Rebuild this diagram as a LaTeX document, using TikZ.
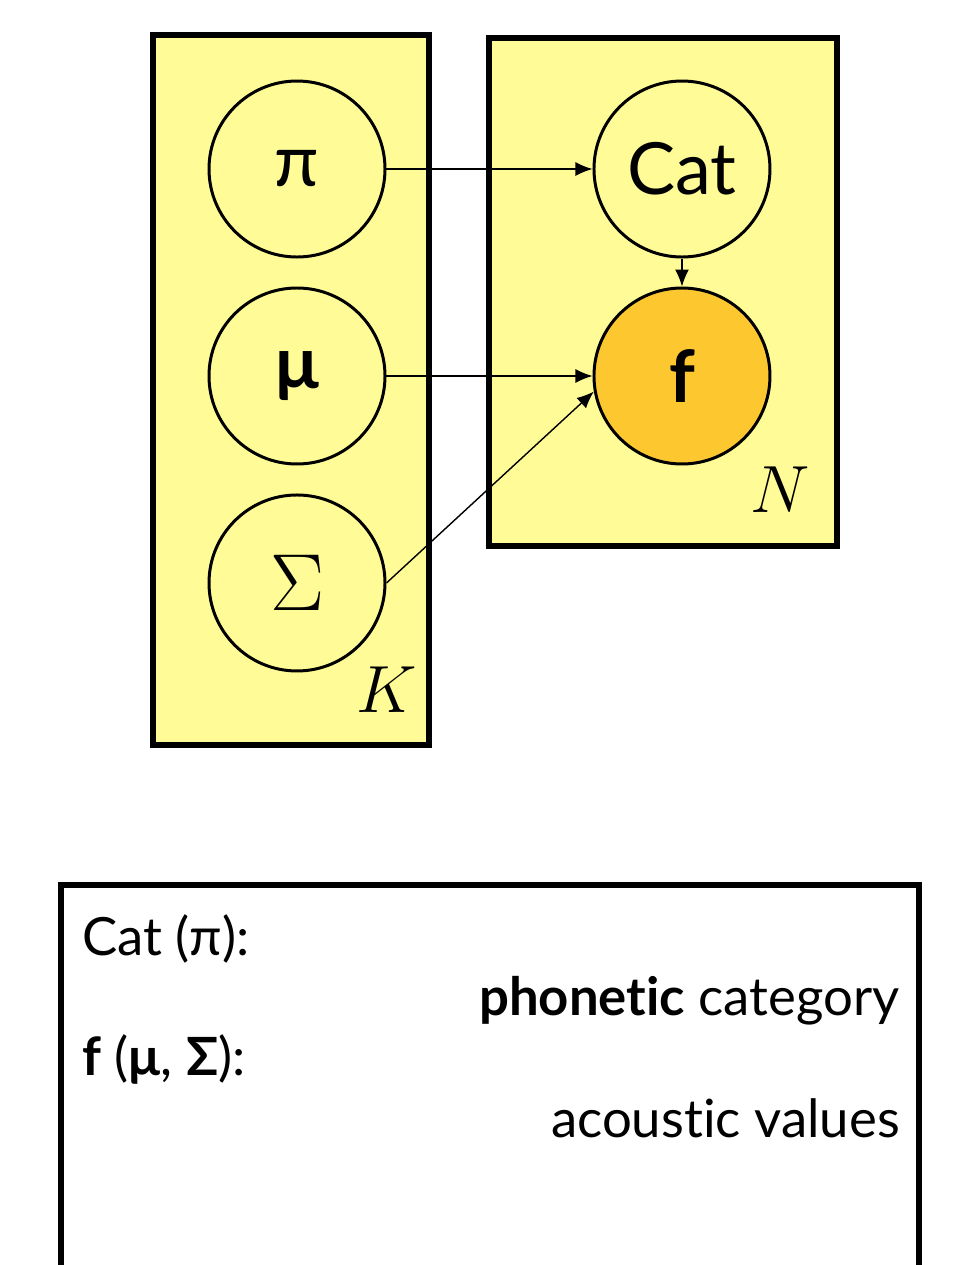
\documentclass[tikz,border=0pt]{standalone}
\usepackage{fix-cm}
\usepackage{fontspec}
\setmainfont{Lato}[Ligatures=NoCommon]
\usepackage{tikz}
\usetikzlibrary{arrows.meta,positioning,fit,backgrounds}
\definecolor{platefill}{RGB}{255,251,150}
\definecolor{obsfill}{RGB}{253,200,47}
\tikzset{
  plate/.style={rectangle, draw=black, line width=3.6pt, fill=platefill},
  latent/.style={circle, draw=black, line width=1.7pt, fill=platefill,
    minimum size=3.52cm, inner sep=0pt, font=\fontsize{41}{41}\selectfont},
  obs/.style={latent, fill=obsfill},
  arr/.style={-{Latex[length=3.4mm, width=2.8mm]}, line width=0.8pt},
  legend/.style={font=\fontsize{30}{36}\selectfont, inner sep=0pt},
}
\begin{document}
\begin{tikzpicture}[
    node distance=5.6mm and 41.2mm,
    platelab/.style={font=\fontsize{38}{38}\selectfont, inner sep=0pt},
  ]
  \useasboundingbox (0,0) rectangle (19.12,-25.3);
  % mixture components (left column)
  \node[latent] (pi) at (5.94,-3.38) {π};
  \node[latent, below=of pi] (mu) {\textbf{μ}};
  \node[latent, below=of mu] (sig) {\fontsize{46}{46}\selectfont$\Sigma$};
  % per-token variables (right column)
  \node[latent, right=of pi] (cat) {Cat};
  \node[obs, below=of cat] (f) {\textbf{f}};
  % plate labels
  \node[platelab, anchor=base east] (klab) at (8.34,-14.24) {$K$};
  \node[platelab, anchor=base east] (nlab) at (16.20,-10.24) {$N$};
  % plates behind everything
  \begin{scope}[on background layer]
    \node[plate, minimum width=5.52cm, minimum height=14.2cm] (kplate) at (5.82,-7.80) {};
    \node[plate, minimum width=6.96cm, minimum height=10.16cm] (nplate) at (13.26,-5.84) {};
  \end{scope}
  % edges
  \draw[arr] (pi) -- (cat);
  \draw[arr] (cat) -- (f);
  \draw[arr] (mu) -- (f);
  \draw[arr] (sig.east) -- (f.190);
  % legend box (runs off the bottom)
  \node[draw=black, line width=3.6pt, minimum width=17.16cm, minimum height=8.8cm] (legbox) at (9.80,-22.1) {};
  \node[legend, anchor=base west] (legcat) at (1.64,-19.10) {Cat (π):};
  \node[legend, anchor=base east] (legphon) at (18.0,-20.30) {\textbf{phonetic} category};
  \node[legend, anchor=base west] (legf) at (1.64,-21.50) {\textbf{f} (\textbf{μ}, \textbf{Σ}):};
  \node[legend, anchor=base east] (legac) at (18.0,-22.74) {acoustic values};
\end{tikzpicture}
\end{document}
